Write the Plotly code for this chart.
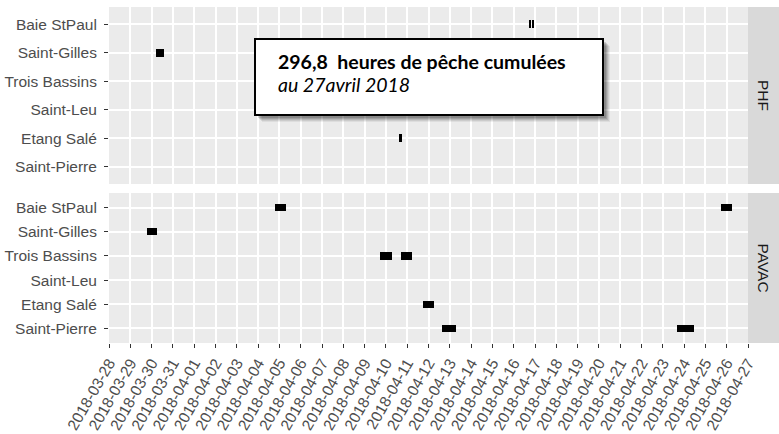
import plotly.graph_objects as go
import pandas as pd

# ---------------- data ----------------
sites = ["Baie StPaul", "Saint-Gilles", "Trois Bassins", "Saint-Leu", "Etang Salé", "Saint-Pierre"]

phf_site = ["Saint-Gilles", "Baie StPaul", "Baie StPaul", "Etang Salé"]
phf_start = ["2018-03-30 04:30", "2018-04-16 16:45", "2018-04-16 20:30", "2018-04-10 14:40"]
phf_end = ["2018-03-30 13:40", "2018-04-16 19:15", "2018-04-16 22:45", "2018-04-10 18:30"]

pavac_site = ["Baie StPaul", "Baie StPaul", "Saint-Gilles", "Trois Bassins", "Trois Bassins",
              "Etang Salé", "Saint-Pierre", "Saint-Pierre"]
pavac_start = ["2018-04-04 18:40", "2018-04-25 17:30", "2018-03-29 18:15", "2018-04-09 17:00",
               "2018-04-10 17:30", "2018-04-11 17:45", "2018-04-12 15:05", "2018-04-23 16:05"]
pavac_end = ["2018-04-05 07:10", "2018-04-26 06:15", "2018-03-30 06:30", "2018-04-10 07:00",
             "2018-04-11 05:45", "2018-04-12 06:45", "2018-04-13 07:00", "2018-04-24 11:00"]

date_ticks = pd.date_range("2018-03-28", "2018-04-27", freq="D")
tick_labels = [d.strftime("%Y-%m-%d") for d in date_ticks]

panel_labels = ["PHF", "PAVAC"]
note_line1 = "296,8  heures de pêche cumulées"
note_line2 = "au 27avril 2018"

# ---------------- layout helpers ----------------
W_FIG, H_FIG = 779, 434
L, R, T, B = 109, 748, 7, 343
PW, PH = R - L, B - T


def px(x):
    return (x - L) / PW


def py(y):
    return (B - y) / PH


def dur_ms(starts, ends):
    s = pd.to_datetime(pd.Series(starts))
    e = pd.to_datetime(pd.Series(ends))
    return list((e - s).dt.total_seconds() * 1000.0)


fig = go.Figure()
fig.add_trace(go.Bar(
    orientation="h", y=phf_site, x=dur_ms(phf_start, phf_end), base=phf_start,
    width=0.28, marker=dict(color="black", line=dict(width=0)),
    xaxis="x2", yaxis="y2", showlegend=False))
fig.add_trace(go.Bar(
    orientation="h", y=pavac_site, x=dur_ms(pavac_start, pavac_end), base=pavac_start,
    width=0.31, marker=dict(color="black", line=dict(width=0)),
    xaxis="x", yaxis="y", showlegend=False))

tickfont = dict(family="Liberation Sans, Arial, sans-serif", size=15.5, color="#4D4D4D")
xrange = ["2018-03-28", "2018-04-27"]
common_x = dict(type="date", range=xrange, tickvals=list(date_ticks), ticktext=tick_labels,
                showgrid=True, gridcolor="white", gridwidth=1.6, zeroline=False,
                showline=False, automargin=False)
common_y = dict(type="category", categoryorder="array", categoryarray=sites,
                range=[5.6, -0.6], showgrid=True, gridcolor="white", gridwidth=1.6,
                zeroline=False, showline=False, ticks="outside", ticklen=4,
                tickcolor="#333333", tickwidth=1, tickfont=tickfont, automargin=False,
                ticklabelstandoff=4)

top_dom = [py(184), 1.0]
bot_dom = [0.0, py(193)]

fig.update_layout(
    width=W_FIG, height=H_FIG,
    margin=dict(l=L, r=W_FIG - R, t=T, b=H_FIG - B, pad=0, autoexpand=False),
    paper_bgcolor="white", plot_bgcolor="#EBEBEB",
    bargap=0, barmode="overlay",
    xaxis=dict(**common_x, anchor="y", domain=[0, 1], ticks="outside", ticklen=4,
               tickcolor="#333333", tickwidth=1, tickangle=-60, tickfont=tickfont),
    xaxis2=dict(**common_x, anchor="y2", domain=[0, 1], matches="x", showticklabels=False,
                ticks=""),
    yaxis=dict(**common_y, domain=bot_dom, anchor="x"),
    yaxis2=dict(**common_y, domain=top_dom, anchor="x2"),
)

shapes = []
# facet strips
for dom in (top_dom, bot_dom):
    shapes.append(dict(type="rect", xref="paper", yref="paper", x0=1.0, x1=px(779),
                       y0=dom[0], y1=dom[1], fillcolor="#D9D9D9", line=dict(width=0),
                       layer="below"))

# note box with soft shadow
bx0, bx1, by0, by1 = 255, 603, 39, 115
for off, op in [(7, 0.06), (6, 0.08), (5, 0.10), (4, 0.12), (3, 0.14)]:
    shapes.append(dict(type="rect", xref="paper", yref="paper",
                       x0=px(bx0 + off), x1=px(bx1 + off), y0=py(by1 + off), y1=py(by0 + off),
                       fillcolor=f"rgba(0,0,0,{op})", line=dict(width=0), layer="above"))
shapes.append(dict(type="rect", xref="paper", yref="paper",
                   x0=px(bx0), x1=px(bx1), y0=py(by1), y1=py(by0),
                   fillcolor="white", line=dict(color="black", width=2), layer="above"))

annotations = []
for dom, lab in zip((top_dom, bot_dom), panel_labels):
    annotations.append(dict(text=lab, xref="paper", yref="paper", x=px(763.5),
                            y=(dom[0] + dom[1]) / 2, showarrow=False, textangle=90,
                            font=dict(family="Liberation Sans, Arial, sans-serif", size=15.5,
                                      color="#1A1A1A"),
                            xanchor="center", yanchor="middle"))
annotations.append(dict(text="<b>" + note_line1 + "</b>", xref="paper", yref="paper",
                        x=px(276), y=py(62), xanchor="left", yanchor="middle", showarrow=False,
                        font=dict(family="Lato, Open Sans, sans-serif", size=19.5, color="black")))
annotations.append(dict(text="<i>" + note_line2 + "</i>", xref="paper", yref="paper",
                        x=px(276), y=py(85), xanchor="left", yanchor="middle", showarrow=False,
                        font=dict(family="Lato, Open Sans, sans-serif", size=19.5, color="black")))

fig.update_layout(shapes=shapes, annotations=annotations)
fig.write_html("out.html", config={"displayModeBar": False},
               post_script="document.body.style.margin='0px';document.body.style.padding='0px';")
